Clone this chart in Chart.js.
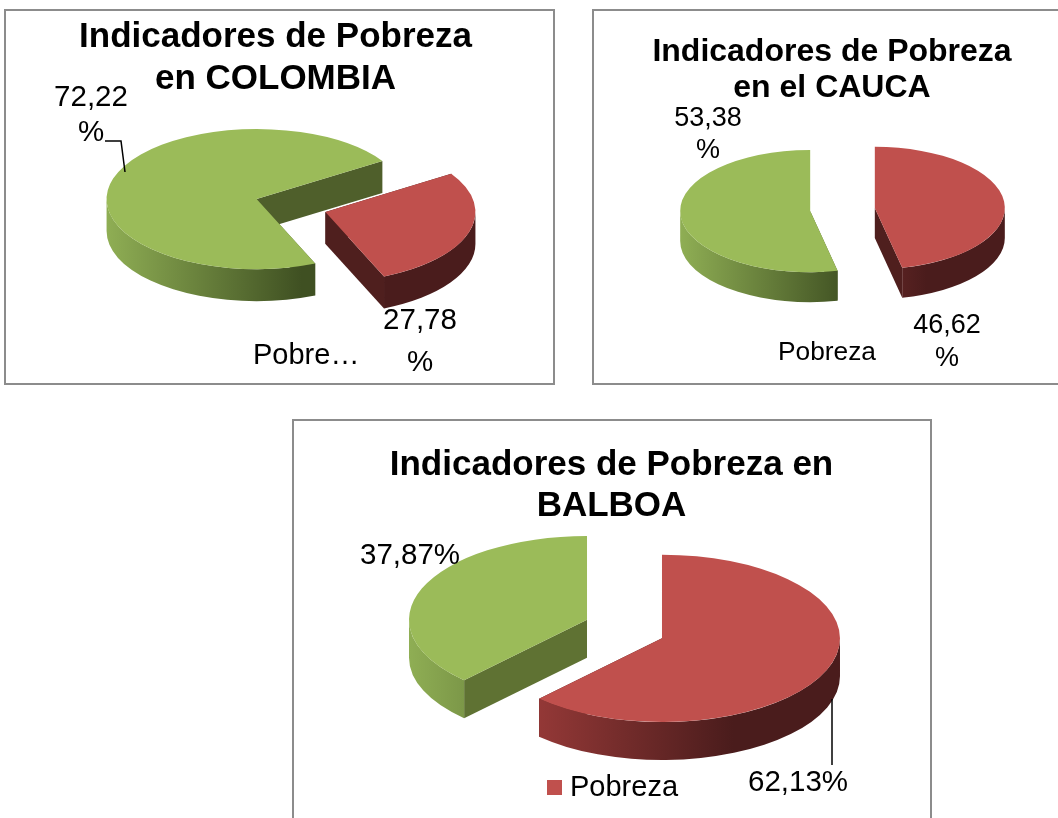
<!DOCTYPE html>
<html><head><meta charset="utf-8">
<style>
html,body{margin:0;padding:0;background:#fff;width:1058px;height:818px;overflow:hidden}
.frame{position:absolute;box-sizing:border-box;border:2px solid #8c8c8c;background:#fff}
canvas{position:absolute;display:block}
</style>
<script src="https://cdn.jsdelivr.net/npm/chart.js@4"></script>
</head><body>
<div class="frame" style="left:4px;top:9px;width:551px;height:376px"></div>
<div class="frame" style="left:592px;top:9px;width:500px;height:376px"></div>
<div class="frame" style="left:292px;top:419px;width:640px;height:440px"></div>
<canvas id="c1" width="541" height="370" style="left:5px;top:11px"></canvas>
<canvas id="c2" width="478" height="370" style="left:593px;top:11px"></canvas>
<canvas id="c3" width="637" height="397" style="left:293px;top:421px"></canvas>
<script>
const categories = ['Pobreza', ''];
const colombiaValues = [27.78, 72.22];
const caucaValues = [46.62, 53.38];
const balboaValues = [62.13, 37.87];
const sliceColors = ['#c0504d', '#9bbb59'];
const FONT = '"Liberation Sans", Arial, sans-serif';

function formatValue(v){ return v.toFixed(2).replace('.', ',') + '%'; }

const pie3d = {
  id: 'pie3d',
  afterDatasetsUpdate(chart, args, o){
    const arcs = chart.getDatasetMeta(0).data;
    chart.$base = { x: arcs[0].x, y: arcs[0].y };
    arcs.forEach((el, i) => {
      const h = (el.startAngle + el.endAngle) / 2;
      el.x += Math.cos(h) * o.explode + o.nudge[i][0];
      el.y += Math.sin(h) * o.explode + o.nudge[i][1] / o.sq;
    });
  },
  beforeDatasetsDraw(chart, args, o){
    const ctx = chart.ctx, base = chart.$base;
    const arcs = chart.getDatasetMeta(0).data;
    arcs.forEach((el, i) => {
      const cx = o.cx + (el.x - base.x);
      const cy = o.cy + (el.y - base.y) * o.sq;
      const r = el.outerRadius, ry = r * o.sq, d = o.depth;
      // cut faces
      ctx.fillStyle = o.faceColors[i];
      [el.startAngle, el.endAngle].forEach(a => {
        const x = cx + Math.cos(a) * r, y = cy + Math.sin(a) * ry;
        ctx.beginPath();
        ctx.moveTo(cx, cy); ctx.lineTo(x, y); ctx.lineTo(x, y + d); ctx.lineTo(cx, cy + d);
        ctx.closePath(); ctx.fill();
      });
      // rim wall, front half only
      const g = ctx.createLinearGradient(cx - r, 0, cx + r, 0);
      o.wallStops[i].forEach(s => g.addColorStop(s[0], s[1]));
      ctx.fillStyle = g;
      for (let k = -1; k <= 1; k++) {
        const a1 = Math.max(el.startAngle, 2 * Math.PI * k);
        const a2 = Math.min(el.endAngle, Math.PI + 2 * Math.PI * k);
        if (a2 <= a1) continue;
        ctx.beginPath();
        ctx.ellipse(cx, cy, r, ry, 0, a1, a2, false);
        ctx.ellipse(cx, cy + d, r, ry, 0, a2, a1, true);
        ctx.closePath(); ctx.fill();
      }
    });
    ctx.save();
    ctx.translate(o.cx, o.cy);
    ctx.scale(1, o.sq);
    ctx.translate(-base.x, -base.y);
  },
  afterDatasetsDraw(chart){ chart.ctx.restore(); },
  afterDraw(chart, args, o){
    const ctx = chart.ctx;
    ctx.save();
    ctx.strokeStyle = '#000'; ctx.lineWidth = 1.5;
    (o.leaders || []).forEach(pts => {
      ctx.beginPath();
      pts.forEach((p, i) => i ? ctx.lineTo(p[0], p[1]) : ctx.moveTo(p[0], p[1]));
      ctx.stroke();
    });
    ctx.fillStyle = '#000'; ctx.textAlign = 'center'; ctx.textBaseline = 'middle';
    ctx.font = o.labelSize + 'px ' + FONT;
    const values = chart.data.datasets[0].data;
    values.forEach((v, i) => {
      const p = o.labelPos[i], txt = formatValue(v);
      if (o.wrapLabels) {
        ctx.fillText(txt.slice(0, -1), p[0], p[1]);
        ctx.fillText('%', p[0], p[1] + o.wrapGap[i]);
      } else ctx.fillText(txt, p[0], p[1]);
    });
    ctx.textAlign = 'left';
    ctx.font = o.legendSize + 'px ' + FONT;
    ctx.fillStyle = '#000';
    ctx.fillText(o.legendText, o.legendPos[0], o.legendPos[1]);
    if (o.swatch) { ctx.fillStyle = chart.data.datasets[0].backgroundColor[0]; ctx.fillRect(o.swatch[0], o.swatch[1], o.swatch[2], o.swatch[2]); }
    ctx.restore();
  }
};

function makePie(id, values, title, titleSize, titleTop, titleLH, radius, rotation, p){
  new Chart(document.getElementById(id), {
    type: 'pie',
    data: { labels: categories, datasets: [{
      data: values, backgroundColor: sliceColors, borderWidth: 0, clip: false
    }]},
    plugins: [pie3d],
    options: {
      responsive: false, animation: false, radius, rotation,
      layout: { padding: 0 },
      plugins: {
        legend: { display: false }, tooltip: { enabled: false },
        title: { display: true, text: title, color: '#000',
          font: { family: FONT, size: titleSize, weight: 'bold', lineHeight: titleLH },
          padding: { top: titleTop, bottom: 0 } },
        pie3d: p
      }
    }
  });
}

const redWall = [[0, '#a8403e'], [0.7, '#4a1c1c'], [1, '#4a1c1c']];
const greenWall = [[0, '#8fae54'], [0.65, '#3f5022'], [1, '#3f5022']];

makePie('c1', colombiaValues, ['Indicadores de Pobreza', 'en COLOMBIA'], 35, 5, 1.2, 150, 57, {
  cx: 286, cy: 191, sq: 0.467, depth: 32, explode: 36, nudge: [[0, 5], [0, 2]],
  faceColors: ['#4f1f1e', '#4f5f2b'], wallStops: [redWall, greenWall],
  labelSize: 29.5, labelPos: [[415, 310], [86, 87]], wrapLabels: true, wrapGap: [42, 35],
  legendText: 'Pobre…', legendSize: 29, legendPos: [248, 345],
  leaders: [[[100, 130], [116, 130], [120, 161]]]
});
makePie('c2', caucaValues, ['Indicadores de Pobreza', 'en el CAUCA'], 32, 23, 1.125, 130, 0, {
  cx: 248.5, cy: 195.5, sq: 0.47, depth: 30, explode: 31.5, nudge: [[2, 3], [0, 3]],
  faceColors: ['#4f1f1e', '#4f5f2b'], wallStops: [redWall, greenWall],
  labelSize: 27, labelPos: [[354, 315], [115, 108]], wrapLabels: true, wrapGap: [33, 32],
  legendText: 'Pobreza', legendSize: 26.3, legendPos: [185, 342]
});
makePie('c3', balboaValues, ['Indicadores de Pobreza en', 'BALBOA'], 35, 24, 1.17, 178, 0, {
  cx: 330, cy: 204, sq: 0.47, depth: 38, explode: 42, nudge: [[0, 6], [3, 2]],
  faceColors: ['#4f1f1e', '#5f7233'], wallStops: [redWall, greenWall],
  labelSize: 29.5, labelPos: [[505, 362], [117, 135]], wrapLabels: false,
  legendText: 'Pobreza', legendSize: 29, legendPos: [277, 367], swatch: [254, 359, 15],
  leaders: [[[539, 278], [539, 344]]]
});
</script>
</body></html>
